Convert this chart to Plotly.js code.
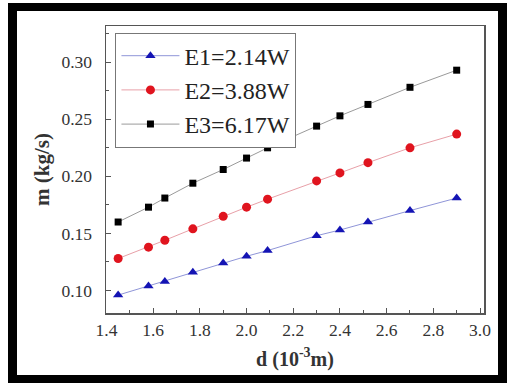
<!DOCTYPE html>
<html>
<head>
<meta charset="utf-8">
<script src="https://cdn.plot.ly/plotly-3.0.1.min.js"></script>
<style>
html,body{margin:0;padding:0;background:#fff;}
#wrap{position:relative;width:507px;height:385px;overflow:hidden;}
#chart{position:absolute;left:0;top:0;width:507px;height:385px;}
#frame{position:absolute;left:8px;top:3px;width:499px;height:380px;box-sizing:border-box;border-style:solid;border-color:#000;border-width:8px 9px 8px 9px;pointer-events:none;}
</style>
</head>
<body>
<div id="wrap"><div id="chart"></div><div id="frame"></div></div>
<script>
const d = [1.45, 1.58, 1.65, 1.77, 1.90, 2.00, 2.09, 2.30, 2.40, 2.52, 2.70, 2.90];
const mE1 = [0.096, 0.104, 0.108, 0.116, 0.124, 0.130, 0.135, 0.148, 0.153, 0.160, 0.170, 0.181];
const mE2 = [0.128, 0.138, 0.144, 0.154, 0.165, 0.173, 0.180, 0.196, 0.203, 0.212, 0.225, 0.237];
const mE3 = [0.160, 0.173, 0.181, 0.194, 0.206, 0.216, 0.225, 0.244, 0.253, 0.263, 0.278, 0.293];
const seriesNames = ['E1=2.14W', 'E2=3.88W', 'E3=6.17W'];

const font = "'Liberation Serif', 'Times New Roman', serif";
const traces = [
  {x: d, y: mE1, name: seriesNames[0], mode: 'lines+markers',
   line: {color: '#8f95d8', width: 1},
   marker: {symbol: 'triangle-up', size: 9, color: '#1414b4'}},
  {x: d, y: mE2, name: seriesNames[1], mode: 'lines+markers',
   line: {color: '#e8a0a8', width: 1},
   marker: {symbol: 'circle', size: 9, color: '#e0141e'}},
  {x: d, y: mE3, name: seriesNames[2], mode: 'lines+markers',
   line: {color: '#9a9a9a', width: 1},
   marker: {symbol: 'square', size: 7, color: '#000'}}
];
const layout = {
  width: 507, height: 385,
  margin: {l: 106, r: 23, t: 26, b: 72, pad: 0},
  paper_bgcolor: '#fff', plot_bgcolor: '#fff',
  font: {family: font, color: '#333', size: 17},
  showlegend: true,
  legend: {x: 0.025, y: 0.977, xanchor: 'left', yanchor: 'top',
    bordercolor: '#777', borderwidth: 1, bgcolor: '#fff', itemwidth: 58,
    font: {family: font, size: 24, color: '#222'}, tracegroupgap: 0},
  xaxis: {range: [1.398, 3.017], tick0: 1.4, dtick: 0.2, tickformat: '.1f',
    ticks: 'inside', ticklen: 5, tickcolor: '#555', linecolor: '#555', linewidth: 1.5,
    showline: true, mirror: true, showgrid: false, zeroline: false,
    minor: {ticks: 'inside', ticklen: 3, dtick: 0.1, tickcolor: '#555'},
    tickfont: {family: font, size: 17.5, color: '#333'},
    title: {text: '<b>d (10<sup>-3</sup>m)</b>', font: {family: font, size: 20, color: '#333'}, standoff: 13}},
  yaxis: {range: [0.0803, 0.3317], tick0: 0.1, dtick: 0.05, tickformat: '.2f',
    ticks: 'inside', ticklen: 5, tickcolor: '#555', linecolor: '#555', linewidth: 1.5,
    showline: true, mirror: true, showgrid: false, zeroline: false,
    ticklabelstandoff: 9,
    minor: {ticks: 'inside', ticklen: 3, dtick: 0.025, tickcolor: '#555'},
    tickfont: {family: font, size: 17.5, color: '#333'},
    title: {text: '<b>m (kg/s)</b>', font: {family: font, size: 21, color: '#333'}, standoff: 6}}
};
Plotly.newPlot('chart', traces, layout, {displayModeBar: false, staticPlot: true});
</script>
</body>
</html>
